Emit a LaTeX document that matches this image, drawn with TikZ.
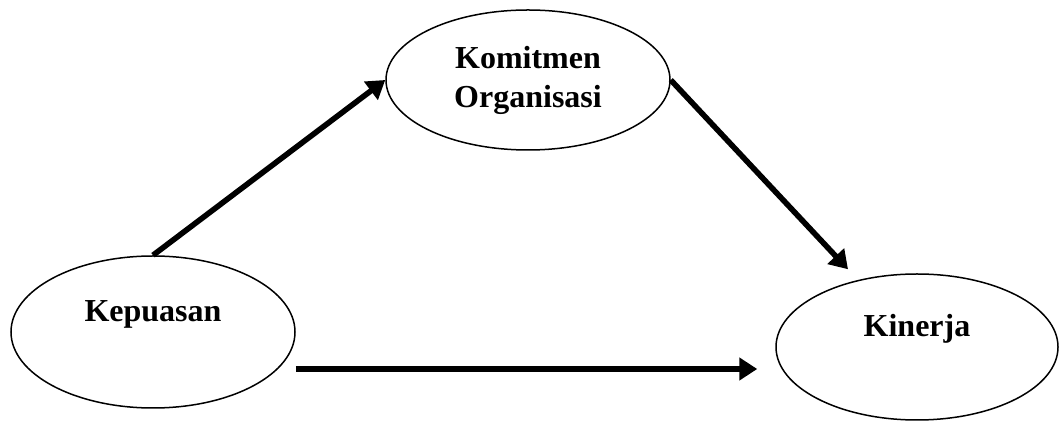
\documentclass[tikz,border=0pt]{standalone}
\usepackage{fontspec}
\setmainfont{Liberation Serif}
\usepackage{tikz}
\usetikzlibrary{shapes.geometric, arrows.meta}

\begin{document}
\begin{tikzpicture}[x=0.5pt, y=-0.5pt, >={Triangle[length=9pt, width=11pt]},
  el/.style={draw, ellipse, line width=0.75pt, inner sep=0pt, align=center,
    font=\fontsize{16}{19.5}\selectfont\bfseries},
  one/.style={text height=8pt, text depth=18pt},
  ar/.style={->, line width=2.8pt}]
  \useasboundingbox (0,0) rectangle (1059,421);
  \node[el, one, minimum width=142pt, minimum height=76pt] (kep) at (153,332) {Kepuasan};
  \node[el, minimum width=142pt, minimum height=70pt] (kom) at (528,80) {Komitmen\\Organisasi};
  \node[el, one, minimum width=141pt, minimum height=73pt] (kin) at (917,347) {Kinerja};
  \coordinate (hs) at ([yshift=-18.5pt]kep.east);
  \draw[ar] (kep.north) -- (kom.west);
  \draw[ar] (kom.east) -- ([xshift=-34.5pt, yshift=2pt]kin.north);
  \draw[ar] (hs) -- ([xshift=-9pt, yshift=-11pt]kin.west);
\end{tikzpicture}
\end{document}
